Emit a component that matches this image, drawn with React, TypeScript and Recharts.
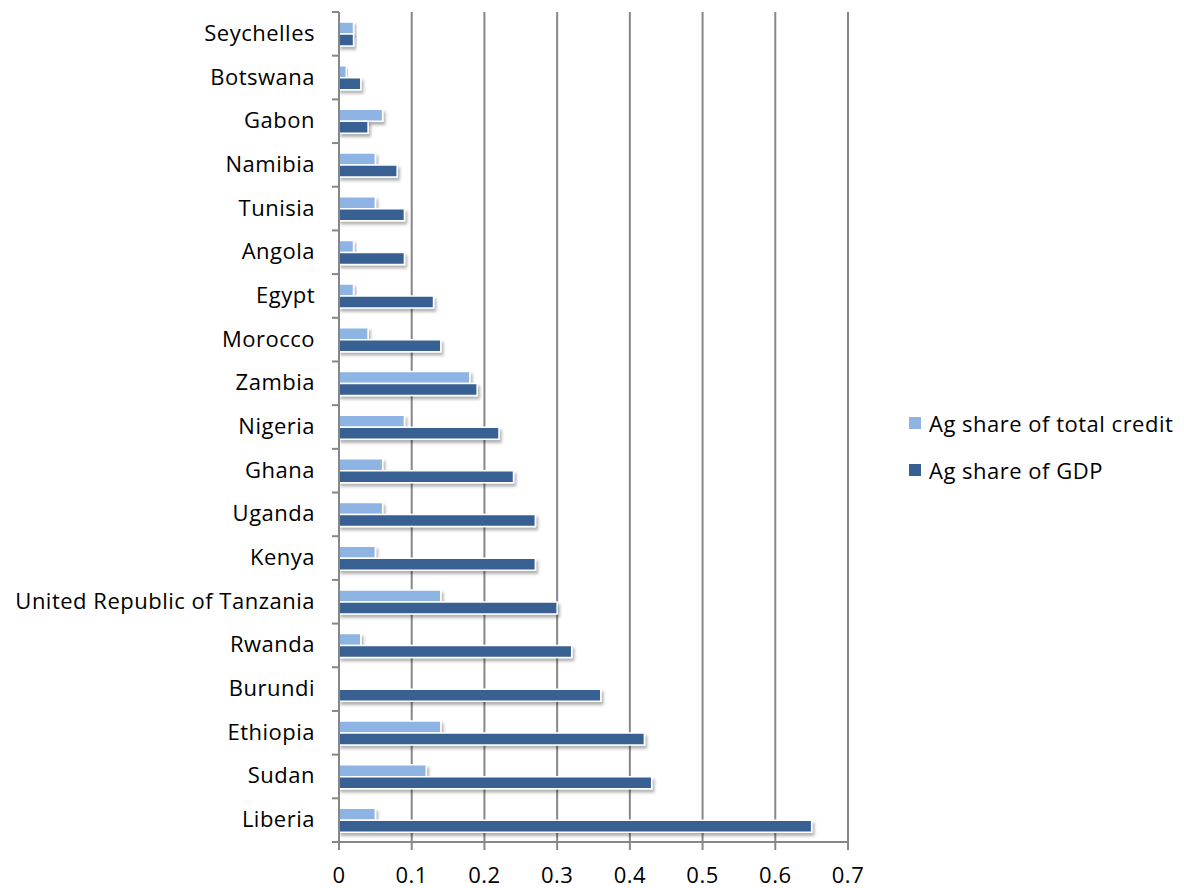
import { BarChart, Bar, XAxis, YAxis, CartesianGrid } from "recharts"

// Countries top to bottom, as they appear in the chart
const countries = [
  "Seychelles",
  "Botswana",
  "Gabon",
  "Namibia",
  "Tunisia",
  "Angola",
  "Egypt",
  "Morocco",
  "Zambia",
  "Nigeria",
  "Ghana",
  "Uganda",
  "Kenya",
  "United Republic of Tanzania",
  "Rwanda",
  "Burundi",
  "Ethiopia",
  "Sudan",
  "Liberia",
]

const creditShare = [0.02, 0.01, 0.06, 0.05, 0.05, 0.02, 0.02, 0.04, 0.18, 0.09, 0.06, 0.06, 0.05, 0.14, 0.03, 0, 0.14, 0.12, 0.05]
const gdpShare = [0.02, 0.03, 0.04, 0.08, 0.09, 0.09, 0.13, 0.14, 0.19, 0.22, 0.24, 0.27, 0.27, 0.3, 0.32, 0.36, 0.42, 0.43, 0.65]

const xTicks = [0, 0.1, 0.2, 0.3, 0.4, 0.5, 0.6, 0.7]

const seriesNames = ["Ag share of total credit", "Ag share of GDP"]
const LIGHT = "#8db4e2"
const DARK = "#376092"
const GRID = "#878787"
const FONT = "'Open Sans', sans-serif"

const W = 1184
const H = 888
const TOP = 12
const BOTTOM_AXIS = 842
const band = (BOTTOM_AXIS - TOP) / countries.length

const data = countries.map((c, i) => ({
  country: c,
  credit: creditShare[i],
  gdp: gdpShare[i],
}))

// category label plus the small tick marks between categories
const CountryTick = (props: any) => {
  const { x, y, payload, index } = props
  const top = y - band / 2
  return (
    <g>
      <line x1={x - 7} x2={x} y1={top} y2={top} stroke={GRID} strokeWidth={2} />
      {index === countries.length - 1 && (
        <line x1={x - 7} x2={x} y1={top + band} y2={top + band} stroke={GRID} strokeWidth={2} />
      )}
      <text
        x={x - 24}
        y={y}
        dy={7}
        textAnchor="end"
        fontSize={22}
        letterSpacing={0.5}
        fill="#000"
        fontFamily={FONT}
      >
        {payload.value}
      </text>
    </g>
  )
}

export default function App() {
  return (
    <div style={{ position: "absolute", left: 0, top: 0, width: W, height: H, background: "#fff" }}>
      <BarChart
        width={W}
        height={H}
        data={data}
        layout="vertical"
        margin={{ top: TOP, right: 336, bottom: 6, left: 0 }}
        barSize={12}
        barGap={0}
      >
        <defs>
          <filter id="shadow" x="-10%" y="-50%" width="130%" height="250%">
            <feDropShadow dx="2" dy="3" stdDeviation="1.5" floodColor="#000" floodOpacity="0.3" />
          </filter>
        </defs>
        <CartesianGrid horizontal={false} stroke={GRID} strokeWidth={2} />
        <XAxis
          type="number"
          domain={[0, 0.7]}
          ticks={xTicks}
          height={40}
          axisLine={{ stroke: GRID, strokeWidth: 2 }}
          tickLine={{ stroke: GRID, strokeWidth: 2 }}
          tickSize={8}
          tick={{ fontSize: 22, fill: "#000", fontFamily: FONT, dy: 15, letterSpacing: 0.5 }}
          tickFormatter={(v) => String(v)}
        />
        <YAxis
          type="category"
          dataKey="country"
          width={339}
          axisLine={{ stroke: GRID, strokeWidth: 2 }}
          tickLine={false}
          tickSize={0}
          tickMargin={0}
          interval={0}
          tick={<CountryTick />}
        />
        <Bar
          dataKey="credit"
          name={seriesNames[0]}
          fill={LIGHT}
          stroke="#fff"
          strokeWidth={1.5}
          filter="url(#shadow)"
          isAnimationActive={false}
        />
        <Bar
          dataKey="gdp"
          name={seriesNames[1]}
          fill={DARK}
          stroke="#fff"
          strokeWidth={1.5}
          filter="url(#shadow)"
          isAnimationActive={false}
        />
      </BarChart>
      <div
        style={{
          position: "absolute",
          left: 909,
          top: 399,
          fontFamily: FONT,
          fontSize: 22,
          letterSpacing: 0.5,
          color: "#000",
        }}
      >
        {seriesNames.map((n, i) => (
          <div key={n} style={{ display: "flex", alignItems: "center", height: 47 }}>
            <span
              style={{
                display: "inline-block",
                width: 12,
                height: 12,
                background: i === 0 ? LIGHT : DARK,
                marginRight: 8,
              }}
            />
            {n}
          </div>
        ))}
      </div>
    </div>
  )
}
